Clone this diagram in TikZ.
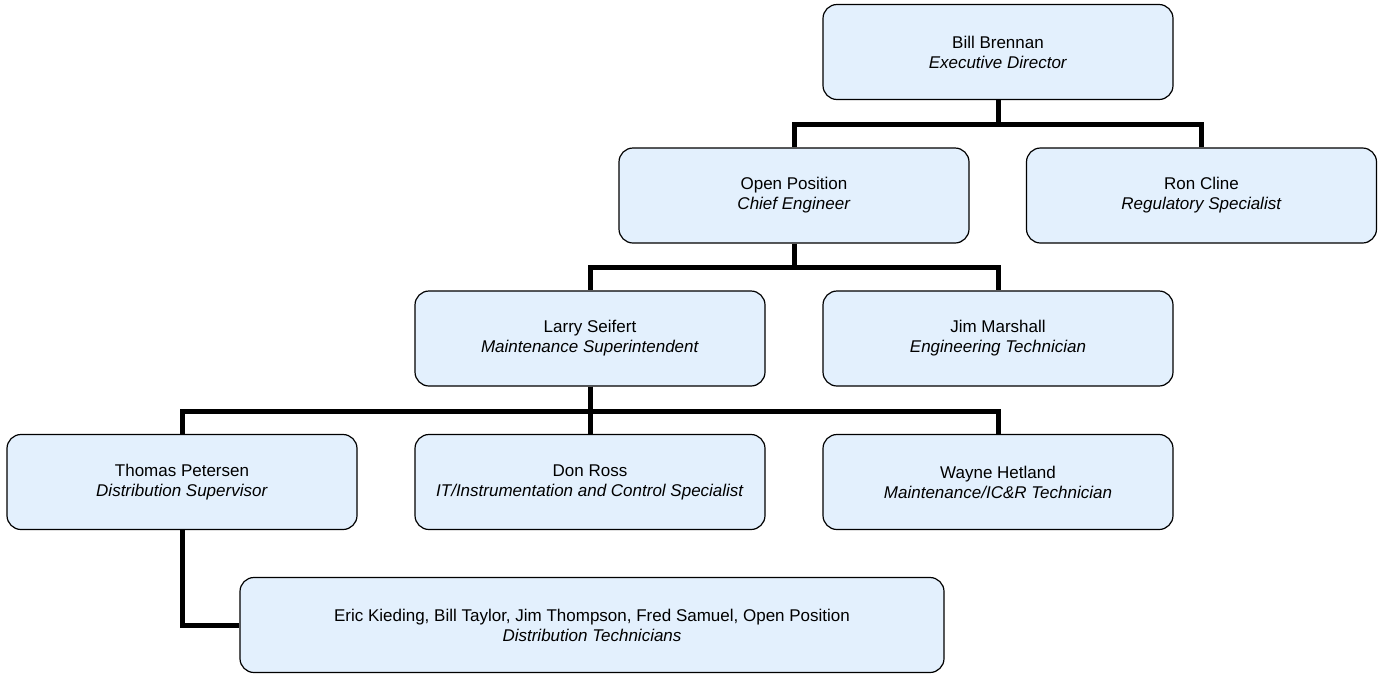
\documentclass[tikz,border=0pt]{standalone}
\usepackage{fontspec}
\setmainfont{Liberation Sans}
\usepackage{tikz}
\usetikzlibrary{positioning}

\definecolor{boxfill}{RGB}{227,240,253}

\begin{document}
\begin{tikzpicture}[x=1pt,y=-1pt,
    person/.style={rectangle,rounded corners=14pt,draw=black,line width=1.2pt,
      fill=boxfill,align=center,inner sep=0pt,minimum width=350pt,minimum height=95pt,
      font=\fontsize{17}{20}\selectfont},
    bus/.style={draw=black,line width=5pt}]

  \useasboundingbox (0,0) rectangle (1382,673);

  \node[person] (bill) at (998,52) {Bill Brennan\\\textit{Executive Director}};
  \node[person] (open) at (794,195.5) {Open Position\\\textit{Chief Engineer}};
  \node[person] (ron) at (1201.5,195.5) {Ron Cline\\\textit{Regulatory Specialist}};
  \node[person] (larry) at (590,338.5) {Larry Seifert\\\textit{Maintenance Superintendent}};
  \node[person] (jim) at (998,338.5) {Jim Marshall\\\textit{Engineering Technician}};
  \node[person] (thomas) at (182,482) {Thomas Petersen\\\textit{Distribution Supervisor}};
  \node[person] (don) at (590,482) {Don Ross\\\textit{IT/Instrumentation and Control Specialist}};
  \node[person] (wayne) at (998,482) {Wayne Hetland\\\textit{Maintenance/IC\&R Technician}};
  \node[person,minimum width=704pt] (eric) at (592,625)
    {Eric Kieding, Bill Taylor, Jim Thompson, Fred Samuel, Open Position\\\textit{Distribution Technicians}};

  % reporting lines
  \draw[bus] (bill.south) -- ++(0,24.5) -| (open.north);
  \draw[bus] (bill.south) -- ++(0,24.5) -| (ron.north);
  \draw[bus] (open.south) -- ++(0,24) -| (larry.north);
  \draw[bus] (open.south) -- ++(0,24) -| (jim.north);
  \draw[bus] (larry.south) -- ++(0,24.5) -| (thomas.north);
  \draw[bus] (larry.south) -- (don.north);
  \draw[bus] (larry.south) -- ++(0,24.5) -| (wayne.north);
  \draw[bus] (thomas.south) |- (eric.west);
\end{tikzpicture}
\end{document}
